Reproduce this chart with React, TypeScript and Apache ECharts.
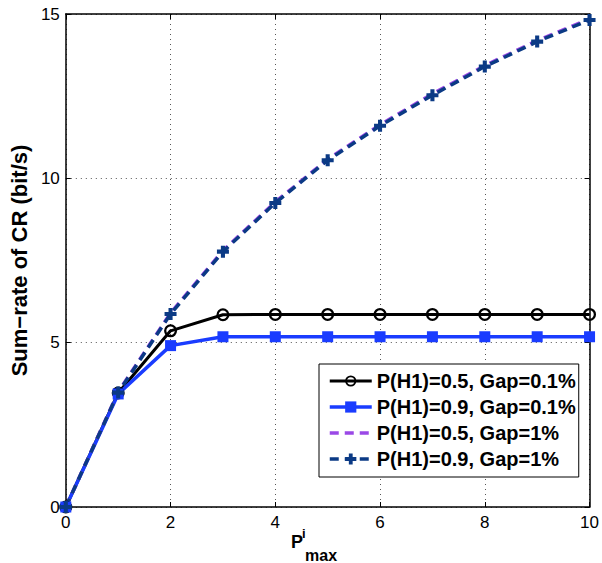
import React, { useEffect, useRef } from "react";
import * as echarts from "echarts";

const xValues = [0, 1, 2, 3, 4, 5, 6, 7, 8, 9, 10];
const seriesNames = [
  "P(H1)=0.5, Gap=0.1%",
  "P(H1)=0.9, Gap=0.1%",
  "P(H1)=0.5, Gap=1%",
  "P(H1)=0.9, Gap=1%",
];
const p05Gap01 = [0, 3.47, 5.36, 5.85, 5.86, 5.86, 5.86, 5.86, 5.86, 5.86, 5.86];
const p09Gap01 = [0, 3.44, 4.91, 5.18, 5.18, 5.18, 5.18, 5.18, 5.18, 5.18, 5.18];
const p05Gap1 = [0, 3.5, 5.9, 7.8, 9.28, 10.58, 11.63, 12.57, 13.43, 14.19, 14.85];
const p09Gap1 = [0, 3.48, 5.87, 7.77, 9.25, 10.55, 11.6, 12.53, 13.4, 14.16, 14.82];
const yTicks = [0, 5, 10, 15];
const xTicks = [0, 2, 4, 6, 8, 10];

const FONT = "'Liberation Sans', Arial, Helvetica, sans-serif";
const RING =
  "path://M0,10A10,10,0,1,1,20,10A10,10,0,1,1,0,10ZM3.5,10A6.5,6.5,0,1,0,16.5,10A6.5,6.5,0,1,0,3.5,10Z";
const PLUS = "path://M3.3,0H6.7V3.3H10V6.7H6.7V10H3.3V6.7H0V3.3H3.3Z";

const toPairs = (ys: number[]) => xValues.map((x, i) => [x, ys[i]]);

export default function App() {
  const ref = useRef<HTMLDivElement>(null);
  useEffect(() => {
    if (!ref.current) return;
    const chart = echarts.init(ref.current, undefined, { renderer: "svg" });
    const axisLine = { show: true, onZero: false, lineStyle: { color: "#000", width: 1.5 } };
    const tick = { show: true, inside: true, length: 5, lineStyle: { color: "#000", width: 1 } };
    chart.setOption({
      animation: false,
      backgroundColor: "#fff",
      textStyle: { fontFamily: FONT },
      grid: { left: 62, right: 12, top: 14, bottom: 56, containLabel: false },
      xAxis: [
        {
          type: "value",
          min: xTicks[0],
          max: xTicks[xTicks.length - 1],
          interval: 2,
          position: "bottom",
          axisLine,
          axisTick: tick,
          axisLabel: { color: "#000", fontSize: 17, margin: 7, fontFamily: FONT },
          splitLine: { show: true, lineStyle: { color: "#555", width: 1, type: [1, 4] } },
        },
        {
          type: "value",
          min: xTicks[0],
          max: xTicks[xTicks.length - 1],
          interval: 2,
          position: "top",
          axisLine,
          axisTick: tick,
          axisLabel: { show: false },
          splitLine: { show: false },
        },
      ],
      yAxis: [
        {
          type: "value",
          min: yTicks[0],
          max: yTicks[yTicks.length - 1],
          interval: 5,
          position: "left",
          axisLine,
          axisTick: tick,
          axisLabel: { color: "#000", fontSize: 17, margin: 6, fontFamily: FONT },
          splitLine: { show: true, lineStyle: { color: "#555", width: 1, type: [1, 4] } },
          name: "Sum\u2212rate of CR (bit/s)",
          nameLocation: "middle",
          nameRotate: 90,
          nameGap: 35,
          nameTextStyle: { color: "#000", fontSize: 22, fontWeight: "bold", fontFamily: FONT },
        },
        {
          type: "value",
          min: yTicks[0],
          max: yTicks[yTicks.length - 1],
          interval: 5,
          position: "right",
          axisLine,
          axisTick: tick,
          axisLabel: { show: false },
          splitLine: { show: false },
        },
      ],
      legend: {
        orient: "vertical",
        left: 319,
        top: 364,
        padding: [7, 3, 8, 9],
        itemWidth: 42,
        itemHeight: 14,
        itemGap: 6,
        backgroundColor: "#fff",
        borderColor: "#000",
        borderWidth: 1,
        borderRadius: 0,
        lineStyle: { width: "inherit", type: "inherit" },
        textStyle: { color: "#000", fontSize: 20, fontWeight: "bold", fontFamily: FONT, lineHeight: 20 },
        data: [
          { name: seriesNames[0] },
          { name: seriesNames[1] },
          { name: seriesNames[2], itemStyle: { color: "transparent", opacity: 0 } },
          { name: seriesNames[3] },
        ],
      },
      graphic: [
        {
          type: "text",
          left: 291,
          top: 533,
          style: { text: "P", font: `bold 18px ${FONT}`, fill: "#000" },
        },
        {
          type: "text",
          left: 302,
          top: 527,
          style: { text: "i", font: `bold 13px ${FONT}`, fill: "#000" },
        },
        {
          type: "text",
          left: 305,
          top: 547,
          style: { text: "max", font: `bold 16px ${FONT}`, fill: "#000" },
        },
      ],
      series: [
        {
          name: seriesNames[0],
          type: "line",
          data: toPairs(p05Gap01),
          symbol: RING,
          symbolSize: 13,
          itemStyle: { color: "#000" },
          lineStyle: { color: "#000", width: 3 },
        },
        {
          name: seriesNames[1],
          type: "line",
          data: toPairs(p09Gap01),
          symbol: "rect",
          symbolSize: 11,
          itemStyle: { color: "#1a3cff" },
          lineStyle: { color: "#1a3cff", width: 3.5 },
        },
        {
          name: seriesNames[2],
          type: "line",
          data: toPairs(p05Gap1),
          symbol: "none",
          itemStyle: { color: "#9a48e6" },
          lineStyle: { color: "#9a48e6", width: 3.5, type: [9, 6] },
        },
        {
          name: seriesNames[3],
          type: "line",
          data: toPairs(p09Gap1),
          symbol: PLUS,
          symbolSize: 12,
          itemStyle: { color: "#0b3a85" },
          lineStyle: { color: "#0b3a85", width: 3.5, type: [9, 6] },
        },
      ],
    });
    return () => chart.dispose();
  }, []);
  return <div ref={ref} style={{ width: 602, height: 563, position: "absolute", left: 0, top: 0 }} />;
}
